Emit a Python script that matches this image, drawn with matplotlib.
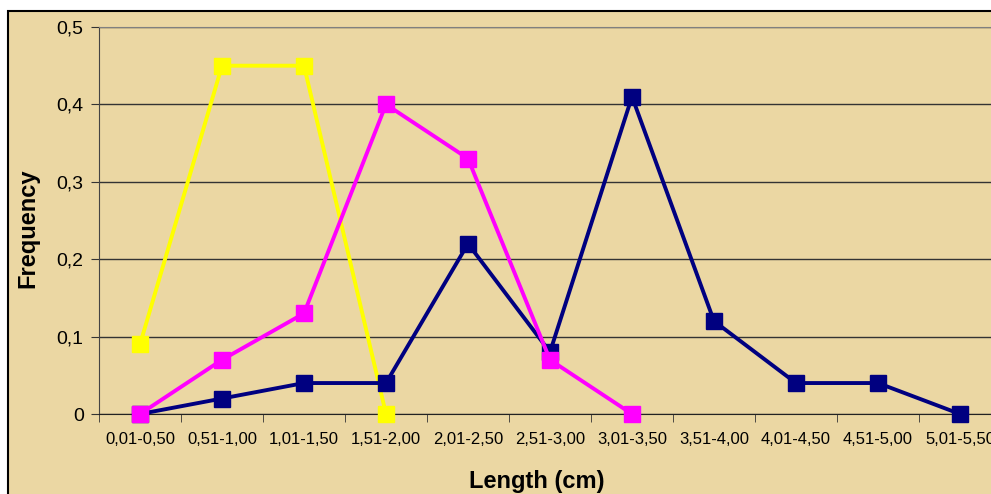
import matplotlib.pyplot as plt
from matplotlib.patches import Rectangle

plt.rcParams['font.family'] = ['Liberation Sans', 'DejaVu Sans']

# length classes (cm)
categories = ["0,01-0,50", "0,51-1,00", "1,01-1,50", "1,51-2,00", "2,01-2,50",
              "2,51-3,00", "3,01-3,50", "3,51-4,00", "4,01-4,50", "4,51-5,00",
              "5,01-5,50"]

# frequency per class for each series
yellow_vals = [0.09, 0.45, 0.45, 0.0]
magenta_vals = [0.0, 0.07, 0.13, 0.40, 0.33, 0.07, 0.0]
navy_vals = [0.0, 0.02, 0.04, 0.04, 0.22, 0.08, 0.41, 0.12, 0.04, 0.04, 0.0]

y_ticks = [0, 0.1, 0.2, 0.3, 0.4, 0.5]
y_ticklabels = ["0", "0,1", "0,2", "0,3", "0,4", "0,5"]

bg = "#EBD7A3"

fig = plt.figure(figsize=(9.91, 4.94), dpi=100)
fig.patch.set_facecolor("white")

# chart area with black border (runs off the right and bottom edges)
fig.patches.append(Rectangle((8 / 991, -0.1), 2.0, 0.1 + (494 - 11) / 494,
                             transform=fig.transFigure, facecolor=bg,
                             edgecolor="black", linewidth=1.5, zorder=-10))

ax = fig.add_axes([99 / 991, 80 / 494, 902 / 991, 387 / 494])
ax.set_facecolor(bg)

x_all = list(range(len(categories)))
ax.plot(x_all[:len(yellow_vals)], yellow_vals, color="#FFFF00", lw=2.8,
        marker="s", ms=11, zorder=3, clip_on=False)
ax.plot(x_all[:len(navy_vals)], navy_vals, color="#000080", lw=2.8,
        marker="s", ms=11, zorder=4, clip_on=False)
ax.plot(x_all[:len(magenta_vals)], magenta_vals, color="#FF00FF", lw=2.8,
        marker="s", ms=11, zorder=5, clip_on=False)

ax.set_xlim(-0.5, len(categories) - 0.5)
ax.set_ylim(0, 0.5)

ax.set_yticks(y_ticks)
ax.set_yticklabels(y_ticklabels, fontsize=14)
ax.yaxis.grid(True, color="#333333", lw=1)
ax.set_axisbelow(True)

ax.set_xticks(x_all)
ax.set_xticklabels(categories, fontsize=12)
ax.set_xticks([i - 0.5 for i in range(len(categories) + 1)], minor=True)
ax.tick_params(axis="x", which="major", length=0, pad=13)
ax.tick_params(axis="x", which="minor", length=6, color="#333333")
ax.tick_params(axis="y", length=6, color="#333333", pad=5)

ax.spines["right"].set_visible(False)
ax.spines["top"].set_color("#808080")
ax.spines["left"].set_color("#444444")
ax.spines["bottom"].set_color("#222222")

fig.text(537 / 991, 13 / 494, "Length (cm)", fontsize=17, fontweight="bold",
         ha="center", va="center")
fig.text(28 / 991, (494 - 228) / 494, "Frequency", fontsize=17,
         fontweight="bold", rotation=90, ha="center", va="center")

fig.savefig("out.png", dpi=100, facecolor="white")
